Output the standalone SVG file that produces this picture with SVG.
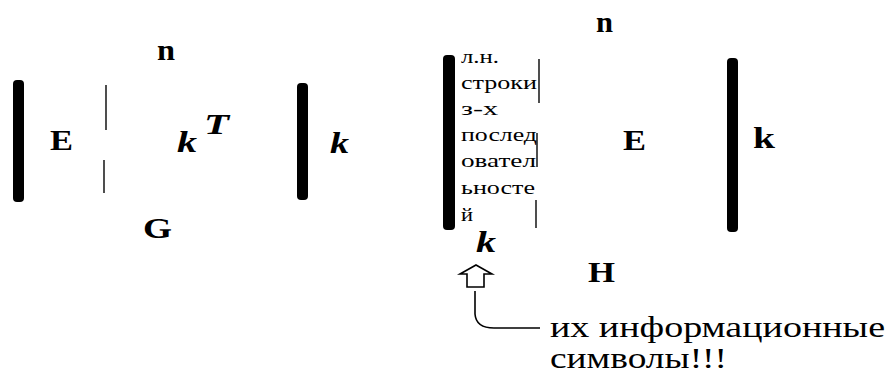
<svg xmlns="http://www.w3.org/2000/svg" width="886" height="374" viewBox="0 0 886 374">
<style>
  text{font-family:"Liberation Serif","Tinos","DejaVu Serif",serif;fill:#000}
  .b{font-weight:bold;font-size:30px}
  .bi{font-weight:bold;font-style:italic;font-size:30px}
  .s{font-size:18px}
  .l{font-size:30px}
  .bar{fill:#000}
  .thin{stroke:#222;stroke-width:1.6;fill:none}
  .conn{stroke:#000;stroke-width:1.6;fill:none}
</style>
<rect width="886" height="374" fill="#fff"/>
<g id="matrix-G">
  <rect class="bar" x="13" y="80" width="11" height="122" rx="4"/>
  <line class="thin" x1="106" y1="85" x2="106" y2="130"/>
  <line class="thin" x1="104" y1="160" x2="104" y2="193"/>
  <rect class="bar" x="297" y="83" width="11" height="117" rx="4"/>
  <text class="b" x="157" y="60" textLength="18" lengthAdjust="spacingAndGlyphs">n</text>
  <text class="b" x="50" y="150" textLength="23" lengthAdjust="spacingAndGlyphs">E</text>
  <text class="bi" x="177" y="152" textLength="20" lengthAdjust="spacingAndGlyphs">k</text>
  <text class="bi" x="204" y="134" textLength="25" lengthAdjust="spacingAndGlyphs">T</text>
  <text class="bi" x="330" y="153" textLength="19" lengthAdjust="spacingAndGlyphs">k</text>
  <text class="b" x="143" y="238" textLength="29" lengthAdjust="spacingAndGlyphs">G</text>
</g>
<g id="matrix-H">
  <rect class="bar" x="443" y="55" width="12" height="175" rx="4"/>
  <line class="thin" x1="539" y1="59" x2="539" y2="103"/>
  <line class="thin" x1="537" y1="133" x2="537" y2="167"/>
  <line class="thin" x1="536" y1="200" x2="536" y2="228"/>
  <rect class="bar" x="727" y="58" width="11" height="174" rx="4"/>
  <text class="s" x="461" y="63" textLength="38" lengthAdjust="spacingAndGlyphs">л.н.</text>
  <text class="s" x="461" y="89" textLength="76" lengthAdjust="spacingAndGlyphs">строки</text>
  <text class="s" x="461" y="115" textLength="37" lengthAdjust="spacingAndGlyphs">з-х</text>
  <text class="s" x="461" y="141" textLength="76" lengthAdjust="spacingAndGlyphs">послед</text>
  <text class="s" x="461" y="167" textLength="75" lengthAdjust="spacingAndGlyphs">овател</text>
  <text class="s" x="461" y="194" textLength="74" lengthAdjust="spacingAndGlyphs">ьносте</text>
  <text class="s" x="461" y="221" textLength="12" lengthAdjust="spacingAndGlyphs">й</text>
  <text class="b" x="596" y="32" textLength="17" lengthAdjust="spacingAndGlyphs">n</text>
  <text class="b" x="623" y="150" textLength="23" lengthAdjust="spacingAndGlyphs">E</text>
  <text class="b" x="753" y="148" textLength="22" lengthAdjust="spacingAndGlyphs">k</text>
  <text class="bi" x="476" y="252" textLength="20" lengthAdjust="spacingAndGlyphs">k</text>
  <text class="b" x="588" y="282" textLength="27" lengthAdjust="spacingAndGlyphs">H</text>
</g>
<g id="note">
  <text class="l" x="550" y="337" textLength="335" lengthAdjust="spacingAndGlyphs">их информационные</text>
  <text class="l" x="550" y="368" textLength="177" lengthAdjust="spacingAndGlyphs">символы!!!</text>
</g>
<g id="connectors">
  <path class="conn" d="M476,265 L492,274 L484,274 L484,287 L467,287 L467,274 L460,274 Z"/>
  <path class="conn" d="M475,291 V314 Q476,328 494,328 H540"/>
</g>
</svg>
